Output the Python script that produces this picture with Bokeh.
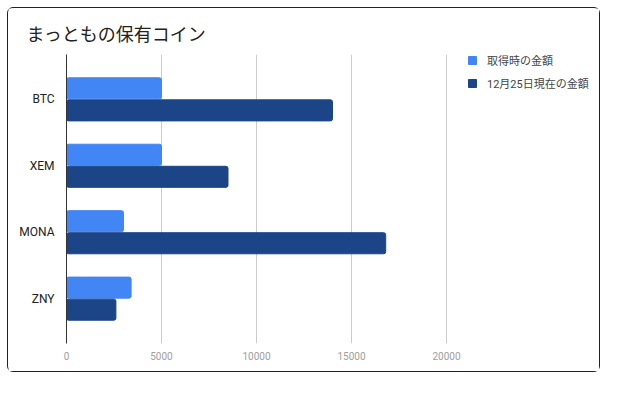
from bokeh.plotting import figure
from bokeh.models import FactorRange, Range1d, Legend, LegendItem, FixedTicker, Spacer
from bokeh.layouts import column, row
from bokeh.transform import dodge
from bokeh.embed import file_html
from bokeh.resources import INLINE
from bokeh.models import ColumnDataSource

coins = ["BTC", "XEM", "MONA", "ZNY"]
acquired = [5000, 5000, 3000, 3400]
current = [14000, 8500, 16800, 2600]
x_ticks = [0, 5000, 10000, 15000, 20000]
series_names = ["取得時の金額", "12月25日現在の金額"]

src = ColumnDataSource(dict(coin=coins, acquired=acquired, current=current))

FONT = "Roboto, 'Noto Sans CJK JP'"

# frame spans past the last gridline so the legend can sit inside it
p = figure(
    width=593, height=365,
    y_range=FactorRange(factors=list(reversed(coins)), range_padding=0.175, range_padding_units="absolute"),
    x_range=Range1d(0, 27632),
    output_backend="svg", toolbar_location=None,
    min_border_left=58, min_border_right=10, min_border_top=46, min_border_bottom=30,
    title="まっともの保有コイン",
)
p.styles = {"border": "1px solid #222", "border-radius": "6px"}
p.outline_line_color = None
p.background_fill_color = "white"
p.border_fill_color = "white"

p.title.text_font = "'Noto Sans CJK JP'"
p.title.text_font_size = "18px"
p.title.text_font_style = "normal"
p.title.text_color = "#222222"
p.title.align = "left"
p.title.offset = -40
p.title.standoff = 17

r1 = p.hbar(y=dodge("coin", 0.166, range=p.y_range), right="acquired", left=0, height=0.317,
            source=src, color="#4285F4", border_radius=2)
r2 = p.hbar(y=dodge("coin", -0.166, range=p.y_range), right="current", left=0, height=0.317,
            source=src, color="#1C4587", border_radius=2)

p.xaxis.ticker = FixedTicker(ticks=x_ticks)
p.xaxis.axis_line_color = None
p.xaxis.major_tick_line_color = None
p.xaxis.minor_tick_line_color = None
p.xaxis.major_label_text_font = "Roboto"
p.xaxis.major_label_text_font_size = "10px"
p.xaxis.major_label_text_color = "#9e9e9e"
p.xaxis.major_label_standoff = 2

p.yaxis.axis_line_color = "#333333"
p.yaxis.axis_line_width = 1
p.yaxis.major_tick_line_color = None
p.yaxis.minor_tick_line_color = None
p.yaxis.major_label_text_font = "Roboto"
p.yaxis.major_label_text_font_size = "12px"
p.yaxis.major_label_text_color = "#222222"
p.yaxis.major_label_standoff = 6

p.xgrid.ticker = FixedTicker(ticks=x_ticks[1:])
p.xgrid.grid_line_color = "#cccccc"
p.ygrid.grid_line_color = None

legend = Legend(items=[LegendItem(label=series_names[0], renderers=[r1]),
                       LegendItem(label=series_names[1], renderers=[r2])],
                location=(401, 252), orientation="vertical")
legend.border_line_color = None
legend.background_fill_alpha = 0
legend.margin = 0
legend.padding = 0
legend.glyph_width = 10
legend.glyph_height = 10
legend.label_height = 13
legend.spacing = 7
legend.label_standoff = 10
legend.label_text_font = FONT
legend.label_text_font_size = "11px"
legend.label_text_color = "#444444"
p.add_layout(legend, "center")

top_pad = Spacer(width=602, height=7, styles={"background-color": "white"})
left_pad = Spacer(width=7, height=367, styles={"background-color": "white"})
layout = column(top_pad, row(left_pad, p, spacing=0), spacing=0)

open("out.html", "w").write(file_html(layout, INLINE))
